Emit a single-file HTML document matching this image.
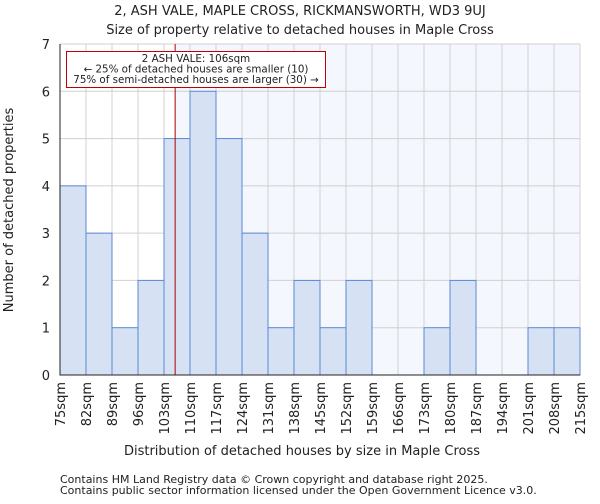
<!DOCTYPE html>
<html><head><meta charset="utf-8"><style>
body{margin:0;background:#fff;font-family:"DejaVu Sans","Liberation Sans",sans-serif}
text{font-family:"DejaVu Sans","Liberation Sans",sans-serif;fill:#222}
</style></head><body>
<svg id="chart" width="600" height="500" xmlns="http://www.w3.org/2000/svg">
<text x="300" y="15" text-anchor="middle" font-size="13">2, ASH VALE, MAPLE CROSS, RICKMANSWORTH, WD3 9UJ</text>
<text x="300" y="34" text-anchor="middle" font-size="13">Size of property relative to detached houses in Maple Cross</text>
<g id="plot"></g>
<text x="302" y="455" text-anchor="middle" font-size="13">Distribution of detached houses by size in Maple Cross</text>
<text transform="translate(13,210) rotate(-90)" text-anchor="middle" font-size="13">Number of detached properties</text>
<text x="60" y="483" font-size="11">Contains HM Land Registry data © Crown copyright and database right 2025.</text>
<text x="60" y="494" font-size="11">Contains public sector information licensed under the Open Government Licence v3.0.</text>
</svg>
<script>
const edges=[75,82,89,96,103,110,117,124,131,138,145,152,159,166,173,180,187,194,201,208,215];
const counts=[4,3,1,2,5,6,5,3,1,2,1,2,0,0,1,2,0,0,1,1];
const yTicks=[0,1,2,3,4,5,6,7];
const marker=106;
const X0=60,X1=580,Y0=375,Y1=44,ymax=7;
const sx=v=>X0+(v-edges[0])/(edges[edges.length-1]-edges[0])*(X1-X0);
const sy=v=>Y0-v/ymax*(Y0-Y1);
const g=document.getElementById('plot');const NS='http://www.w3.org/2000/svg';
function mk(t,a,p){const e=document.createElementNS(NS,t);for(const k in a)e.setAttribute(k,a[k]);(p||g).appendChild(e);return e;}
let bg=mk('rect',{x:X0,y:Y1,width:X1-X0,height:Y0-Y1,fill:'#fff'});


let sh=mk('rect',{x:sx(marker),y:Y1,width:X1-sx(marker),height:Y0-Y1,fill:'#f4f7fd'});


edges.forEach(v=>{let l=mk('line',{x1:sx(v),x2:sx(v),y1:Y1,y2:Y0,stroke:'#d0d0d0','stroke-width':1});

});
yTicks.forEach(v=>{let l=mk('line',{x1:X0,x2:X1,y1:sy(v),y2:sy(v),stroke:'#d0d0d0','stroke-width':1});


let t=mk('text',{x:50,y:sy(v)+5,'text-anchor':'end','font-size':13});t.textContent=v;

});
counts.forEach((c,i)=>{if(c<=0)return;let r=mk('rect',{x:sx(edges[i]),y:sy(c),width:sx(edges[i+1])-sx(edges[i]),height:Y0-sy(c),fill:'#d6e2f4',stroke:'#5a8ad6','stroke-width':1});

});
edges.forEach(v=>{let t=mk('text',{transform:`translate(${sx(v)+5},382) rotate(-90)`,'text-anchor':'end','font-size':13});t.textContent=v+'sqm';

});
let ml=mk('line',{x1:sx(marker),x2:sx(marker),y1:Y1,y2:Y0,stroke:'#b00000','stroke-width':1});


let ab=mk('rect',{x:66.5,y:51.5,width:259,height:36,fill:'#fff',stroke:'#c00000','stroke-width':1});


['2 ASH VALE: 106sqm','← 25% of detached houses are smaller (10)','75% of semi-detached houses are larger (30) →'].forEach((s,i)=>{let t=mk('text',{x:196,y:62+i*10.5,'text-anchor':'middle','font-size':10.3});t.textContent=s;

});
let ax=mk('path',{d:`M${X0},${Y1}V${Y0}H${X1}`,fill:'none',stroke:'#222','stroke-width':1});


</script>
</body></html>
